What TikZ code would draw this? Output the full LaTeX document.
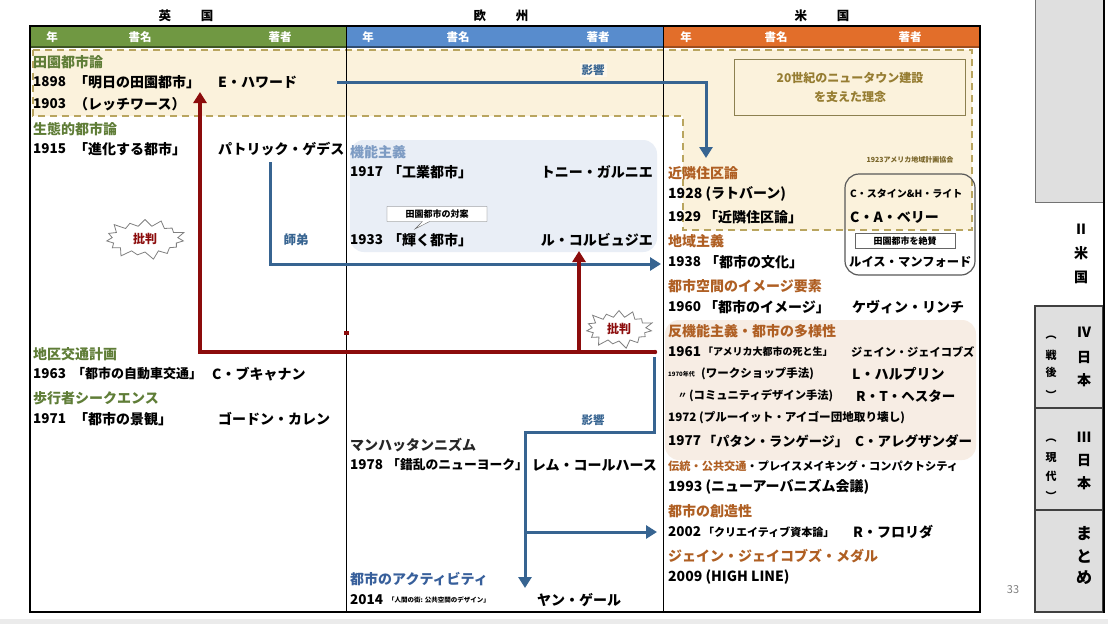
\documentclass[tikz,border=0pt]{standalone}
\usepackage{fontspec}
\setmainfont{Noto Sans CJK JP}
\usetikzlibrary{arrows.meta,shapes.symbols,shapes.callouts}
\newcommand\myfs[1]{\fontsize{#1}{#1}\selectfont}
\definecolor{hgreen}{RGB}{112,152,66}
\definecolor{hblue}{RGB}{88,140,205}
\definecolor{horange}{RGB}{226,110,42}
\definecolor{beige}{RGB}{251,242,220}
\definecolor{dashc}{RGB}{185,165,95}
\definecolor{catgreen}{RGB}{95,125,55}
\definecolor{catbrown}{RGB}{175,95,35}
\definecolor{catblue}{RGB}{125,155,195}
\definecolor{actblue}{RGB}{55,95,155}
\definecolor{fblue}{RGB}{233,238,246}
\definecolor{pinkbg}{RGB}{247,237,228}
\definecolor{arrblue}{RGB}{55,100,145}
\definecolor{darkred}{RGB}{140,12,12}
\definecolor{olivetxt}{RGB}{150,125,50}
\definecolor{tabgray}{RGB}{223,223,223}
\begin{document}
\begin{tikzpicture}[x=1pt,y=-1pt,
  bodytext/.style={anchor=west, inner sep=0pt, font=\bfseries\myfs{14}},
  yeartext/.style={anchor=west, inner sep=0pt, font=\bfseries\myfs{13.5}},
  authortext/.style={anchor=west, inner sep=0pt, font=\bfseries\myfs{14}},
  cattext/.style={anchor=west, inner sep=0pt, font=\bfseries\myfs{14}},
  headtext/.style={inner sep=0pt, text=white, font=\bfseries\myfs{11.5}},
  tabtext/.style={inner sep=0pt, font=\bfseries\myfs{14}},
  bluearrow/.style={draw=arrblue, line width=3pt, -{Triangle[length=11pt,width=13pt]}},
  redarrow/.style={draw=darkred, line width=3.5pt, -{Triangle[length=11pt,width=13pt]}},
  burst/.style={starburst, starburst points=15, starburst point height=9pt, draw=gray, fill=white, line width=0.8pt, text=darkred, font=\bfseries\myfs{12}, inner sep=0pt},
  infobox/.style={draw=gray!80!black, fill=white, inner sep=1pt, font=\bfseries\myfs{9}},
  tab/.style={fill=tabgray, draw=black!75, line width=1.5pt}
]
\useasboundingbox (0,0) rectangle (1108,624);
\fill[white] (0,0) rectangle (1108,624);

% background regions
\fill[beige] (33,50) -- (972,50) -- (972,230) -- (683,230) -- (683,116) -- (33,116) -- cycle;
\draw[dashc, line width=1.3pt, dash pattern=on 7pt off 5pt] (33,50) -- (972,50) -- (972,230) -- (683,230) -- (683,116) -- (33,116) -- cycle;
\fill[fblue, rounded corners=14pt] (350,140) rectangle (657,252);
\fill[pinkbg, rounded corners=14pt] (665,320) rectangle (976,460);

% headers
\fill[hgreen] (30,26) rectangle (346,47);
\fill[hblue] (346,26) rectangle (663,47);
\fill[horange] (663,26) rectangle (980,47);
\draw[hgreen!55!black, line width=1.5pt] (30,47) -- (346,47);
\draw[hblue!55!black, line width=1.5pt] (346,47) -- (663,47);
\draw[horange!70!black, line width=1.5pt] (663,47) -- (980,47);
\node[headtext] (h1) at (52,37) {年};
\node[headtext] (h2) at (140,37) {書名};
\node[headtext] (h3) at (280,37) {著者};
\node[headtext] (h4) at (368,37) {年};
\node[headtext] (h5) at (458,37) {書名};
\node[headtext] (h6) at (598,37) {著者};
\node[headtext] (h7) at (686,37) {年};
\node[headtext] (h8) at (776,37) {書名};
\node[headtext] (h9) at (910,37) {著者};

\node[font=\bfseries\myfs{12.5}, inner sep=0pt] (tUK) at (186,16) {英\hspace{2.4em}国};
\node[font=\bfseries\myfs{12.5}, inner sep=0pt] (tEU) at (501,16) {欧\hspace{2.4em}州};
\node[font=\bfseries\myfs{12.5}, inner sep=0pt] (tUS) at (822,16) {米\hspace{2.4em}国};

% table frame
\draw[line width=1.2pt] (30,26) rectangle (980,612);
\draw[line width=1pt] (346,26) -- (346,612);
\draw[line width=1pt] (663,26) -- (663,612);

% idea box
\node[draw={rgb,255:red,140;green,128;blue,80}, line width=1pt, minimum width=231pt, minimum height=56pt, text=olivetxt, font=\bfseries\myfs{12}, align=center, inner sep=0pt] (idea) at (850,87) {20世紀のニュータウン建設\\[7pt]を支えた理念};

% right bracket box
\draw[black!65, line width=1.2pt, rounded corners=14pt] (845,174) rectangle (975,275);
\node[infobox, minimum width=100pt, minimum height=15pt] (zessan) at (905,241) {田園都市を絶賛};
\node[inner sep=0pt, text=olivetxt!80!black, font=\bfseries\myfs{7}] (rpaa) at (910,160) {1923アメリカ地域計画協会};

% ---------- arrows ----------
\coordinate (bA1) at (337,82);
\coordinate (bA2) at (706,82);
\coordinate (bA3) at (706,158);
\draw[bluearrow] (bA1) -- (bA2) -- (bA3);
\coordinate (bB1) at (270,162);
\coordinate (bB2) at (270,264);
\coordinate (bB3) at (661,264);
\draw[bluearrow] (bB1) -- (bB2) -- (bB3);
\coordinate (bC1) at (654,357);
\coordinate (bC2) at (654,432);
\coordinate (bC3) at (525,432);
\coordinate (bC4) at (525,588);
\coordinate (bD1) at (525,532);
\coordinate (bD2) at (657,532);
\draw[bluearrow] (bC1) -- (bC2) -- (bC3) -- (bC4);
\draw[bluearrow] (bD1) -- (bD2);
\coordinate (rA1) at (655,352);
\coordinate (rA2) at (200,352);
\coordinate (rA3) at (200,92);
\coordinate (rB1) at (579,352);
\coordinate (rB2) at (579,251);
\draw[redarrow, line join=miter] (rA1) -- (rA2) -- (rA3);
\draw[redarrow] (rB1) -- (rB2);
\fill[darkred] (rA1) circle (2.2pt);
\fill[darkred] (344,331) rectangle (349,335);

\node[inner sep=2pt, fill=beige!60!white, text=arrblue, font=\bfseries\myfs{11.5}] (eikyo1) at (593,70) {影響};
\node[inner sep=0pt, text=arrblue, font=\bfseries\myfs{11.5}] (eikyo2) at (593,420) {影響};
\node[inner sep=0pt, text=arrblue, font=\bfseries\myfs{12.5}] (shitei) at (296,240) {師弟};

\node[burst, minimum width=84pt, minimum height=44pt] (crit1) at (145,239) {批判};
\node[burst, minimum width=72pt, minimum height=42pt] (crit2) at (619,329) {批判};

% ---------- left column ----------
\node[cattext, text=catgreen] (c1) at (33,62) {田園都市論};
\node[yeartext] (y1898) at (33,82) {1898};
\node[bodytext] (b1898) at (74,82) {「明日の田園都市」};
\node[authortext] (a1898) at (218,82) {E・ハワード};
\node[yeartext] (y1903) at (33,104) {1903};
\node[bodytext] (b1903) at (74,104) {（レッチワース）};
\node[cattext, text=catgreen] (c2) at (33,129) {生態的都市論};
\node[yeartext] (y1915) at (33,149) {1915};
\node[bodytext] (b1915) at (74,149) {「進化する都市」};
\node[authortext] (a1915) at (218,149) {パトリック・ゲデス};
\node[cattext, text=catgreen] (c3) at (33,354) {地区交通計画};
\node[yeartext] (y1963) at (33,374) {1963};
\node[bodytext, font=\bfseries\myfs{13}] (b1963) at (72,374) {「都市の自動車交通」};
\node[authortext] (a1963) at (212,374) {C・ブキャナン};
\node[cattext, text=catgreen] (c4) at (33,398) {歩行者シークエンス};
\node[yeartext] (y1971) at (33,419) {1971};
\node[bodytext] (b1971) at (74,419) {「都市の景観」};
\node[authortext] (a1971) at (218,419) {ゴードン・カレン};

% ---------- middle column ----------
\node[cattext, text=catblue] (c5) at (350,152) {機能主義};
\node[yeartext] (y1917) at (350,172) {1917};
\node[bodytext] (b1917) at (388,172) {「工業都市」};
\node[authortext, anchor=east] (a1917) at (653,172) {トニー・ガルニエ};
\node[rectangle callout, draw=gray!80!black, fill=white, inner sep=2pt, minimum width=100pt, minimum height=15pt, font=\bfseries\myfs{9}, callout absolute pointer={(415,229)}] (taian) at (437,214) {田園都市の対案};
\node[yeartext] (y1933) at (350,240) {1933};
\node[bodytext] (b1933) at (388,240) {「輝く都市」};
\node[authortext, anchor=east] (a1933) at (653,240) {ル・コルビュジエ};
\node[cattext, text=black!85] (c6) at (350,445) {マンハッタンニズム};
\node[yeartext] (y1978) at (350,465) {1978};
\node[bodytext, font=\bfseries\myfs{12.8}] (b1978) at (387,465) {「錯乱のニューヨーク」};
\node[authortext, anchor=east] (a1978) at (657,465) {レム・コールハース};
\node[cattext, text=actblue] (c7) at (350,579) {都市のアクティビティ};
\node[yeartext] (y2014) at (350,600) {2014};
\node[bodytext, font=\bfseries\myfs{6.5}] (b2014) at (388,600) {「人間の街: 公共空間のデザイン」};
\node[authortext] (a2014) at (537,600) {ヤン・ゲール};

% ---------- right column ----------
\node[cattext, text=catbrown] (c8) at (668,173) {近隣住区論};
\node[bodytext] (b1928) at (668,194) {1928 (ラトバーン)};
\node[authortext, font=\bfseries\myfs{10}] (a1928) at (850,194) {C・スタイン\&H・ライト};
\node[yeartext] (y1929) at (668,217) {1929};
\node[bodytext] (b1929) at (704,217) {「近隣住区論」};
\node[authortext] (a1929) at (850,217) {C・A・ベリー};
\node[cattext, text=catbrown] (c9) at (668,241) {地域主義};
\node[yeartext] (y1938) at (668,262) {1938};
\node[bodytext] (b1938) at (705,262) {「都市の文化」};
\node[authortext, font=\bfseries\myfs{12.3}] (a1938) at (849,262) {ルイス・マンフォード};
\node[cattext, text=catbrown] (c10) at (668,286) {都市空間のイメージ要素};
\node[yeartext] (y1960) at (668,307) {1960};
\node[bodytext] (b1960) at (704,307) {「都市のイメージ」};
\node[authortext] (a1960) at (852,307) {ケヴィン・リンチ};
\node[cattext, text=catbrown] (c11) at (668,331) {反機能主義・都市の多様性};
\node[yeartext] (y1961) at (668,352) {1961};
\node[bodytext, font=\bfseries\myfs{10}] (b1961) at (703,352) {「アメリカ大都市の死と生」};
\node[authortext, font=\bfseries\myfs{11.2}] (a1961) at (851,352) {ジェイン・ジェイコブズ};
\node[bodytext, font=\bfseries\myfs{6}] (y1970) at (668,374) {1970年代};
\node[bodytext, font=\bfseries\myfs{11.5}] (b1970) at (701,374) {(ワークショップ手法)};
\node[authortext] (a1970) at (852,374) {L・ハルプリン};
\node[bodytext, font=\bfseries\myfs{9}] (ditto) at (678,396) {〃};
\node[bodytext, font=\bfseries\myfs{11.3}] (b1970b) at (689,396) {(コミュニティデザイン手法)};
\node[authortext, font=\bfseries\myfs{13.5}] (a1970b) at (856,396) {R・T・ヘスター};
\node[bodytext, font=\bfseries\myfs{11.6}] (b1972) at (668,418) {1972 (プルーイット・アイゴー団地取り壊し)};
\node[yeartext] (y1977) at (668,441) {1977};
\node[bodytext, font=\bfseries\myfs{13.2}] (b1977) at (703,441) {「パタン・ランゲージ」};
\node[authortext, font=\bfseries\myfs{13.5}] (a1977) at (855,441) {C・アレグザンダー};
\node[bodytext, font=\bfseries\myfs{11.2}] (c12) at (668,466) {\textcolor{catbrown}{伝統・公共交通}・プレイスメイキング・コンパクトシティ};
\node[bodytext] (b1993) at (668,487) {1993 (ニューアーバニズム会議)};
\node[cattext, text=catbrown] (c13) at (668,511) {都市の創造性};
\node[yeartext] (y2002) at (668,532) {2002};
\node[bodytext, font=\bfseries\myfs{11}] (b2002) at (703,532) {「クリエイティブ資本論」};
\node[authortext] (a2002) at (853,532) {R・フロリダ};
\node[cattext, text=catbrown] (c14) at (668,556) {ジェイン・ジェイコブズ・メダル};
\node[bodytext] (b2009) at (668,577) {2009 (HIGH LINE)};

% ---------- sidebar ----------
\fill[tabgray] (1035,0) rectangle (1103,202);
\draw[black!55, line width=0.8pt] (1035,0) -- (1035,202) -- (1103,202);
\draw[tab] (1035,306) rectangle (1103,408);
\draw[tab] (1035,408) rectangle (1103,510);
\draw[tab] (1035,510) rectangle (1103,612);
\draw[line width=2pt] (1104,0) -- (1104,613);
\node[tabtext] (s1a) at (1081,229) {Ⅱ};
\node[tabtext] (s1b) at (1081,253) {米};
\node[tabtext] (s1c) at (1081,277) {国};
\node[tabtext] (s2a) at (1084,332) {Ⅳ};
\node[tabtext] (s2b) at (1084,357) {日};
\node[tabtext] (s2c) at (1084,380) {本};
\node[tabtext, font=\bfseries\myfs{11}] (s2d) at (1051,338) {︵};
\node[tabtext, font=\bfseries\myfs{11}] (s2e) at (1051,355) {戦};
\node[tabtext, font=\bfseries\myfs{11}] (s2f) at (1051,372) {後};
\node[tabtext, font=\bfseries\myfs{11}] (s2g) at (1051,395) {︶};
\node[tabtext] (s3a) at (1084,437) {Ⅲ};
\node[tabtext] (s3b) at (1084,460) {日};
\node[tabtext] (s3c) at (1084,483) {本};
\node[tabtext, font=\bfseries\myfs{11}] (s3d) at (1051,441) {︵};
\node[tabtext, font=\bfseries\myfs{11}] (s3e) at (1051,458) {現};
\node[tabtext, font=\bfseries\myfs{11}] (s3f) at (1051,476) {代};
\node[tabtext, font=\bfseries\myfs{11}] (s3g) at (1051,496) {︶};
\node[tabtext, font=\bfseries\myfs{16}] (s4a) at (1084,534) {ま};
\node[tabtext, font=\bfseries\myfs{16}] (s4b) at (1084,556) {と};
\node[tabtext, font=\bfseries\myfs{16}] (s4c) at (1084,578) {め};
\node[inner sep=0pt, text=gray, font=\myfs{11}] (pg) at (1013,590) {33};

% bottom strip
\fill[black!8] (0,619) rectangle (1108,624);
\end{tikzpicture}
\end{document}
